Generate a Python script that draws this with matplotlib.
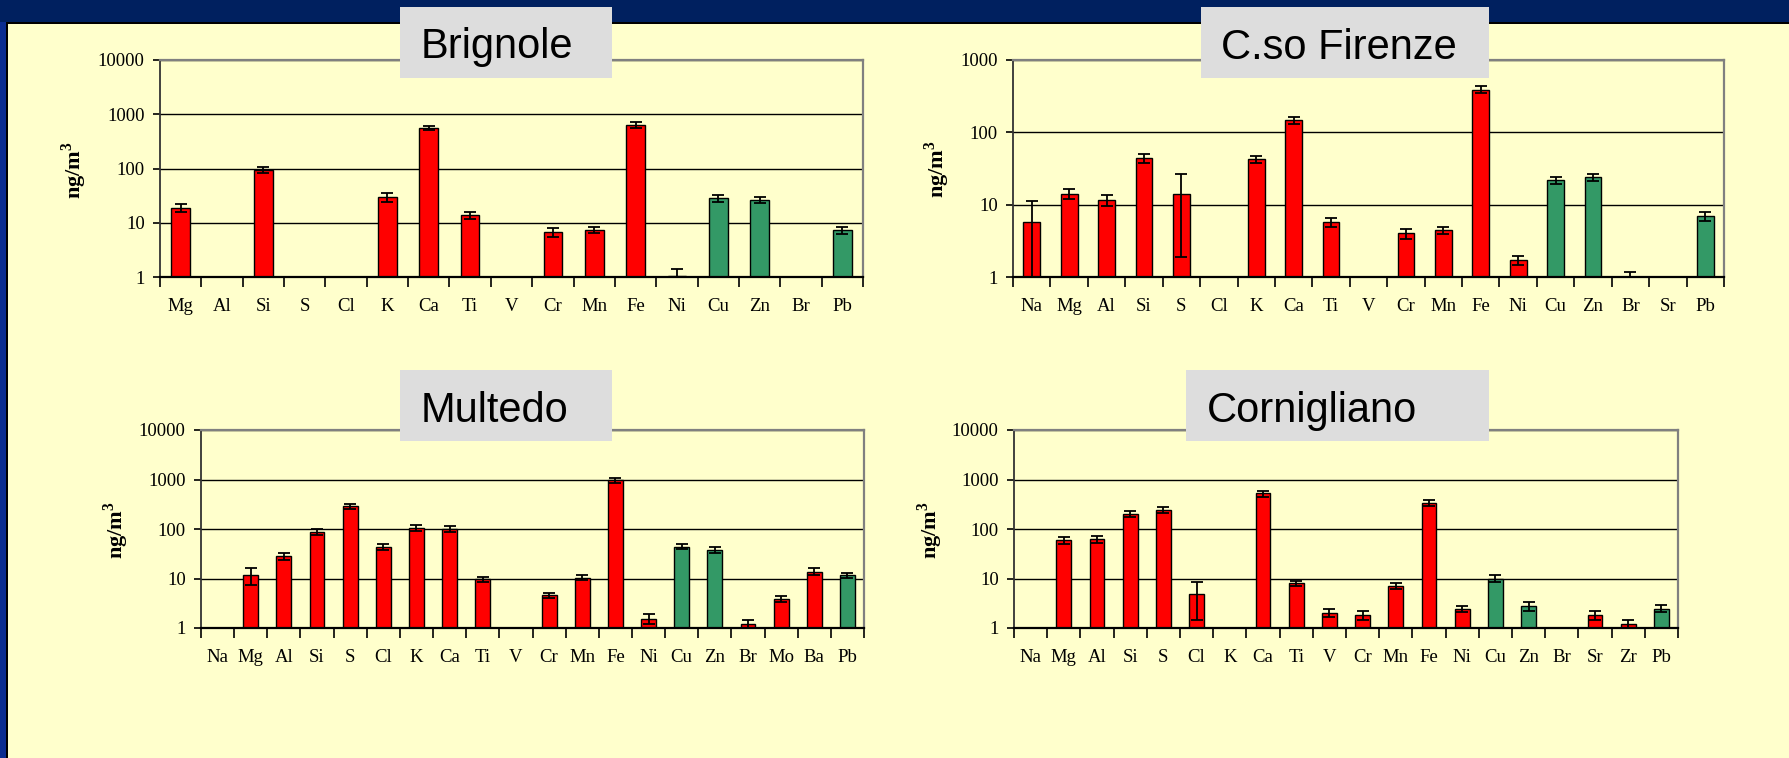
import numpy as np
import matplotlib
matplotlib.use('Agg')
import matplotlib.pyplot as plt
from matplotlib.patches import Rectangle
from matplotlib.ticker import NullLocator

# dati (ng/m3), nan = non rilevato
brig_el = ['Mg', 'Al', 'Si', 'S', 'Cl', 'K', 'Ca', 'Ti', 'V', 'Cr', 'Mn', 'Fe', 'Ni', 'Cu', 'Zn', 'Br', 'Pb']
brig_val = [19, np.nan, 94, np.nan, np.nan, 30, 565, 13.8, np.nan, 6.8, 7.3, 645, 1.06, 28, 26.5, np.nan, 7.3]
brig_err = [3, np.nan, 13, np.nan, np.nan, 6, 55, 2, np.nan, 1.3, 0.9, 90, 0.33, 3.8, 3, np.nan, 1]

fir_el = ['Na', 'Mg', 'Al', 'Si', 'S', 'Cl', 'K', 'Ca', 'Ti', 'V', 'Cr', 'Mn', 'Fe', 'Ni', 'Cu', 'Zn', 'Br', 'Sr', 'Pb']
fir_val = [5.7, 14.1, 11.6, 44, 14.1, np.nan, 42.6, 147, 5.7, np.nan, 4.0, 4.45, 390, 1.7, 21.8, 24, 1.0, np.nan, 6.9]
fir_err = [5.4, 2.2, 2, 6.5, 12.2, np.nan, 4.5, 15, 0.8, np.nan, 0.6, 0.5, 42, 0.25, 2.5, 2.8, 0.16, np.nan, 0.9]

mult_el = ['Na', 'Mg', 'Al', 'Si', 'S', 'Cl', 'K', 'Ca', 'Ti', 'V', 'Cr', 'Mn', 'Fe', 'Ni', 'Cu', 'Zn', 'Br', 'Mo', 'Ba', 'Pb']
mult_val = [np.nan, 12, 28.2, 89, 285, 43.6, 105, 99, 9.7, np.nan, 4.6, 10.4, 973, 1.55, 44.3, 38.5, 1.2, 3.86, 13.8, 11.5]
mult_err = [np.nan, 4.5, 5, 12, 30, 6, 15, 14, 1.2, np.nan, 0.5, 1.1, 110, 0.36, 5, 5, 0.25, 0.5, 2.2, 1.3]

corn_el = ['Na', 'Mg', 'Al', 'Si', 'S', 'Cl', 'K', 'Ca', 'Ti', 'V', 'Cr', 'Mn', 'Fe', 'Ni', 'Cu', 'Zn', 'Br', 'Sr', 'Zr', 'Pb']
corn_val = [np.nan, 59, 63, 203, 244, 4.95, np.nan, 523, 8.1, 2.04, 1.86, 7.2, 339, 2.46, 10, 2.79, np.nan, 1.86, 1.22, 2.46]
corn_err = [np.nan, 9, 10, 30, 37, 3.5, np.nan, 70, 1, 0.4, 0.38, 1, 50, 0.38, 1.5, 0.6, np.nan, 0.38, 0.24, 0.4]

green_el = ['Cu', 'Zn', 'Pb']

RED = '#FF0000'
GREEN = '#339966'
YELLOW = '#FFFFCC'

W, H = 1789, 758
plt.rcParams['font.family'] = ['Liberation Serif', 'DejaVu Serif']
plt.rcParams['mathtext.fontset'] = 'custom'
plt.rcParams['mathtext.rm'] = 'Liberation Serif'
plt.rcParams['mathtext.bf'] = 'Liberation Serif:bold'


def px_rect(x0, y0, x1, y1):
    # pixel (origine in alto a sinistra) -> frazioni della figura
    return [x0 / W, 1 - y1 / H, (x1 - x0) / W, (y1 - y0) / H]


def draw_panel(fig, rect, elems, vals, errs, ymax):
    ax = fig.add_axes(px_rect(*rect))
    ax.set_facecolor(YELLOW)
    vals = np.array(vals, float)
    errs = np.array(errs, float)
    x = np.arange(len(elems))
    ok = ~np.isnan(vals)
    colors = [GREEN if e in green_el else RED for e in elems]
    ax.set_yscale('log')
    ax.bar(x[ok], vals[ok], width=0.45, color=np.array(colors)[ok],
           edgecolor='black', linewidth=1, zorder=2)
    ax.errorbar(x[ok], vals[ok], yerr=errs[ok], fmt='none', ecolor='black',
                elinewidth=1.3, capsize=4.5, capthick=1.3, zorder=3)
    ax.set_xlim(-0.5, len(elems) - 0.5)
    ax.set_ylim(1, ymax)

    decades = [10 ** k for k in range(int(np.log10(ymax)) + 1)]
    ax.set_yticks(decades)
    ax.set_yticklabels([str(d) for d in decades])
    ax.yaxis.set_minor_locator(NullLocator())
    ax.yaxis.grid(True, color='black', linewidth=1)
    ax.set_axisbelow(True)

    ax.set_xticks(x)
    ax.set_xticklabels(elems)
    ax.set_xticks(np.arange(len(elems) + 1) - 0.5, minor=True)
    ax.tick_params(axis='x', which='major', length=0, pad=15, labelsize=13.5)
    ax.tick_params(axis='x', which='minor', length=7, width=1.2, direction='out')
    ax.tick_params(axis='y', length=5, width=1.2, pad=6, labelsize=13.5)

    for s in ['top', 'right']:
        ax.spines[s].set_color('#808080')
        ax.spines[s].set_linewidth(1.6)
    ax.spines['left'].set_color('#333333')
    ax.spines['left'].set_linewidth(1.3)
    ax.spines['bottom'].set_color('black')
    ax.spines['bottom'].set_linewidth(1.6)
    return ax


def title_box(fig, rect, text, text_x, baseline_y):
    x0, y0, x1, y1 = rect
    fig.add_artist(Rectangle((x0 / W, 1 - y1 / H), (x1 - x0) / W, (y1 - y0) / H,
                             transform=fig.transFigure, facecolor='#DDDDDD',
                             edgecolor='none', zorder=5))
    fig.text(text_x / W, 1 - baseline_y / H, text, ha='left', va='baseline',
             fontsize=30, family='Liberation Sans', color='black', zorder=6)


fig = plt.figure(figsize=(W / 100, H / 100), dpi=100)
fig.patch.set_facecolor(YELLOW)

# cornice blu tipo diapositiva
fig.add_artist(Rectangle((0, 1 - 22 / H), 1, 22 / H, transform=fig.transFigure,
                         facecolor='#00205F', edgecolor='none', zorder=1))
fig.add_artist(Rectangle((0, 1 - 23.5 / H), 1, 1.8 / H, transform=fig.transFigure,
                         facecolor='black', edgecolor='none', zorder=1))
fig.add_artist(Rectangle((0, 0), 6 / W, 1 - 22 / H, transform=fig.transFigure,
                         facecolor='#0A2C90', edgecolor='none', zorder=1))
fig.add_artist(Rectangle((6 / W, 0), 1.8 / W, 1 - 22 / H, transform=fig.transFigure,
                         facecolor='black', edgecolor='none', zorder=1))

draw_panel(fig, (160, 60, 863, 277), brig_el, brig_val, brig_err, 10000)
draw_panel(fig, (1013, 60, 1724, 277), fir_el, fir_val, fir_err, 1000)
draw_panel(fig, (201, 430, 864, 628), mult_el, mult_val, mult_err, 10000)
draw_panel(fig, (1014, 430, 1678, 628), corn_el, corn_val, corn_err, 10000)

title_box(fig, (400, 7, 612, 78), 'Brignole', 421, 58)
title_box(fig, (1201, 7, 1489, 78), 'C.so Firenze', 1221, 59)
title_box(fig, (400, 370, 612, 441), 'Multedo', 421, 422)
title_box(fig, (1186, 370, 1489, 441), 'Cornigliano', 1207, 422)

for cx, cy in [(74, 170), (937, 169), (116, 530), (930, 530)]:
    fig.text(cx / W, 1 - cy / H, r'ng/m$^{\mathbf{3}}$', rotation=90,
             ha='center', va='center', fontsize=16, fontweight='bold')

fig.savefig('out.png', dpi=100, facecolor=fig.get_facecolor())
